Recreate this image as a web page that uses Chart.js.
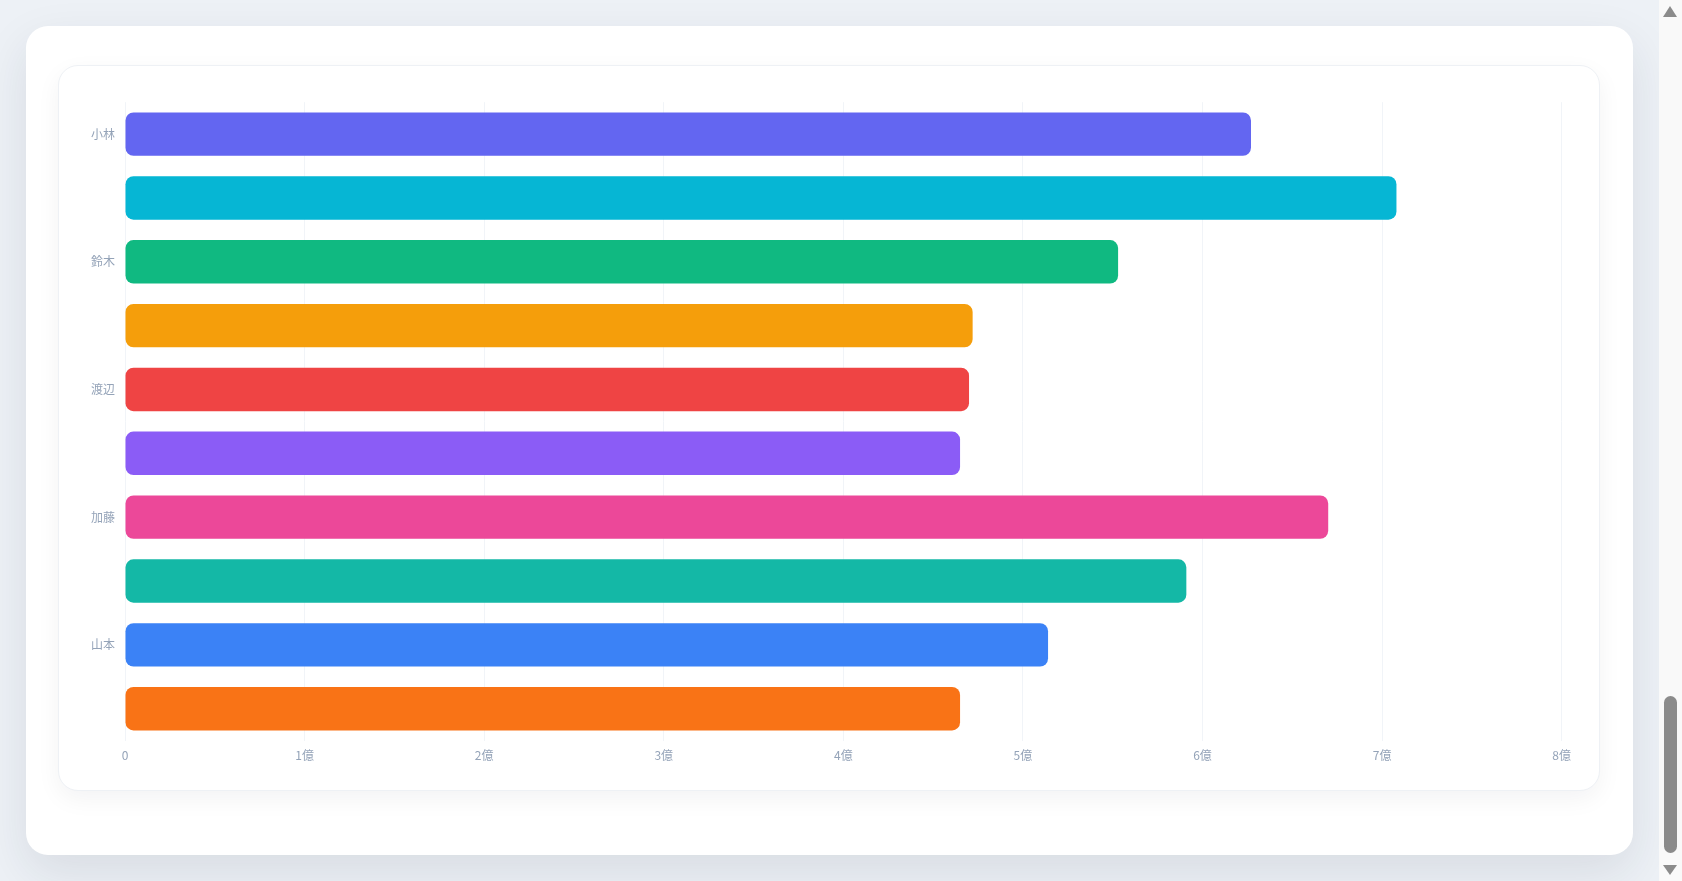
<!DOCTYPE html>
<html lang="ja">
<head>
<meta charset="utf-8">
<title>担当者別売上</title>
<script src="https://cdn.jsdelivr.net/npm/chart.js@4/dist/chart.umd.min.js"></script>
<style>
  html, body { margin: 0; padding: 0; }
  body {
    background: #edf1f6;
    font-family: 'Noto Sans CJK JP', 'Noto Sans', sans-serif;
    overflow: hidden;
  }
  .panel {
    margin: 26px 0 26px 26px;
    width: 1607px;
    box-sizing: border-box;
    padding: 39px 33px 64px 32px;
    background: #fff;
    border-radius: 22px;
    box-shadow: 0 18px 48px rgba(30, 41, 59, 0.10);
  }
  .card {
    height: 726px;
    box-sizing: border-box;
    padding: 19px 20px 19px 22px;
    background: #fff;
    border: 1px solid #eef1f5;
    border-radius: 20px;
    box-shadow: 0 8px 24px rgba(15, 23, 42, 0.05);
  }
  .chart-box { position: relative; height: 100%; }

  /* the page is shown scrolled to its end, so draw the scrollbar */
  .sb { position: fixed; top: 0; right: 0; width: 23px; height: 100%; background: #f9f9f9; }
  .sb .thumb { position: absolute; left: 5px; width: 13px; top: 696px; height: 157px; border-radius: 7px; background: #8b8b8b; }
  .sb .up, .sb .down { position: absolute; left: 4px; width: 0; height: 0; border-left: 7px solid transparent; border-right: 7px solid transparent; }
  .sb .up { top: 6px; border-bottom: 11px solid #8b8b8b; }
  .sb .down { bottom: 6px; border-top: 10px solid #8b8b8b; }
</style>
</head>
<body>
<div class="panel">
  <div class="card">
    <div class="chart-box"><canvas id="salesChart"></canvas></div>
  </div>
</div>
<div class="sb"><div class="up"></div><div class="thumb"></div><div class="down"></div></div>
<script>
// 担当者（10名、ラベルは1つおきに表示）
const names = ['小林', '佐藤', '鈴木', '高橋', '渡辺', '田中', '加藤', '伊藤', '山本', '中村'];
// 売上（円）
const sales = [627000000, 708000000, 553000000, 472000000, 470000000, 465000000, 670000000, 591000000, 514000000, 465000000];
const barColors = ['#6366f1', '#06b6d4', '#10b981', '#f59e0b', '#ef4444', '#8b5cf6', '#ec4899', '#14b8a6', '#3b82f6', '#f97316'];
const xTicks = [0, 1, 2, 3, 4, 5, 6, 7, 8];

const tickFont = { family: "'Noto Sans CJK JP', 'Noto Sans', sans-serif", size: 12 };

new Chart(document.getElementById('salesChart'), {
  type: 'bar',
  data: {
    labels: names,
    datasets: [{
      label: '売上',
      data: sales,
      backgroundColor: barColors,
      borderWidth: 0,
      borderRadius: 8,
      borderSkipped: false,
      barPercentage: 0.85,
      categoryPercentage: 0.8
    }]
  },
  options: {
    indexAxis: 'y',
    responsive: true,
    maintainAspectRatio: false,
    animation: false,
    plugins: { legend: { display: false }, tooltip: { enabled: false } },
    scales: {
      x: {
        min: 0,
        max: xTicks[xTicks.length - 1] * 1e8,
        afterBuildTicks: (axis) => { axis.ticks = xTicks.map((v) => ({ value: v * 1e8 })); },
        grid: { color: '#f1f4f8', drawTicks: false },
        border: { display: false },
        ticks: {
          color: '#94a3b8',
          font: tickFont,
          padding: 8,
          callback: (v) => (v === 0 ? '0' : `${v / 1e8}億`)
        }
      },
      y: {
        grid: { display: false, drawTicks: false },
        border: { display: false },
        ticks: {
          color: '#94a3b8',
          font: tickFont,
          padding: 10,
          autoSkip: true,
          maxTicksLimit: 5
        }
      }
    }
  }
});
</script>
</body>
</html>
